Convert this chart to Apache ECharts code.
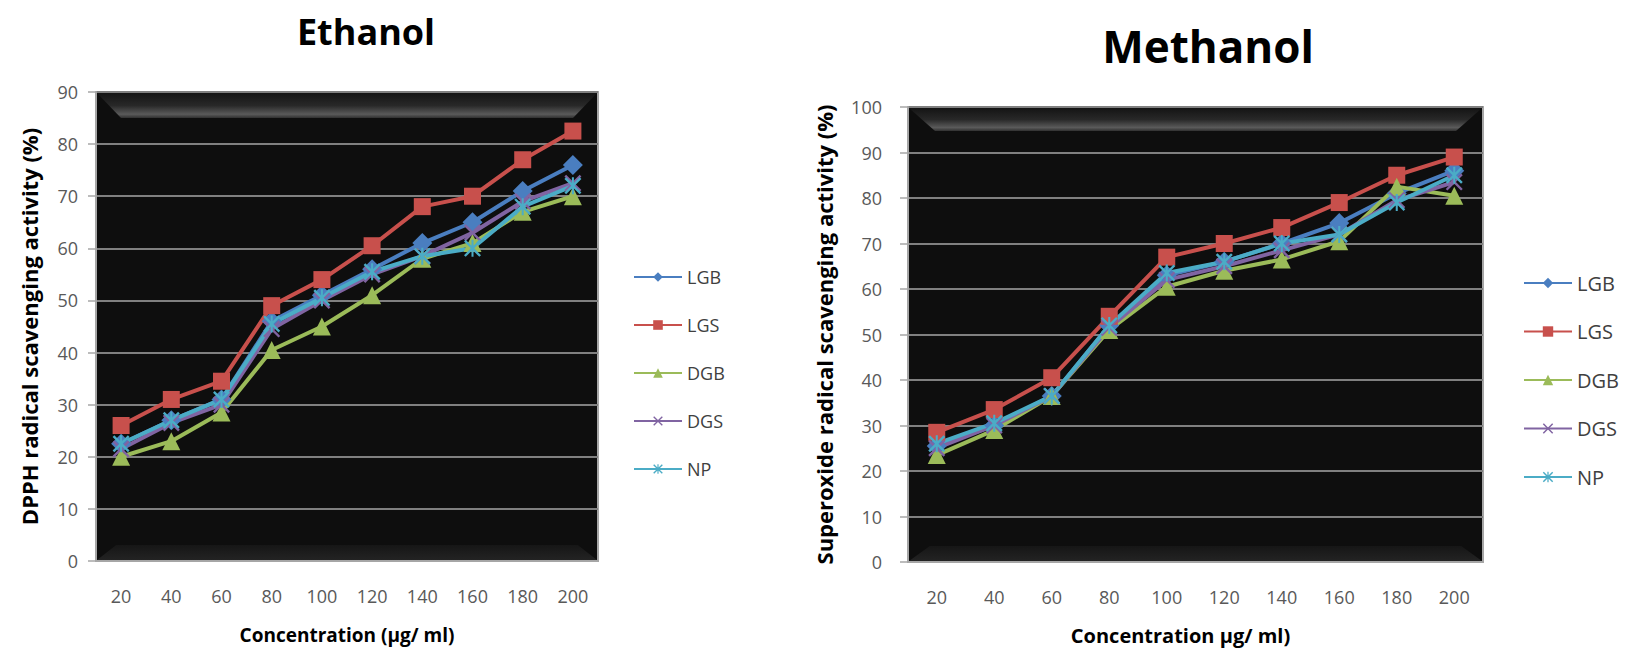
<!DOCTYPE html>
<html><head><meta charset="utf-8">
<script src="https://cdn.jsdelivr.net/npm/echarts@6/dist/echarts.min.js"></script>
<style>html,body{margin:0;padding:0;background:#fff}#c{width:1639px;height:654px}</style>
</head><body><div id="c"></div><script>
// ---- data ----
const categories = ['20','40','60','80','100','120','140','160','180','200'];
const seriesNames = ['LGB','LGS','DGB','DGS','NP'];
const yTicksEthanol = [0, 90, 10];   // min, max, interval
const yTicksMethanol = [0, 100, 10];

const ethanolLGB = [22.5, 27, 31, 46, 51, 56, 61, 65, 71, 76];
const ethanolLGS = [26, 31, 34.5, 49, 54, 60.5, 68, 70, 77, 82.5];
const ethanolDGB = [20, 23, 28.5, 40.5, 45, 51, 58, 61, 67, 70];
const ethanolDGS = [21.5, 26.5, 30, 44.5, 50, 55, 58.5, 63, 69, 72.5];
const ethanolNP  = [22.5, 27, 31, 45.5, 50.5, 55.5, 58.5, 60, 68, 72];

const methanolLGB = [25.5, 30, 36.5, 52, 63, 66, 70, 74.5, 81, 86];
const methanolLGS = [28.5, 33.5, 40.5, 54, 67, 70, 73.5, 79, 85, 89];
const methanolDGB = [23.5, 29, 36.5, 51, 60.5, 64, 66.5, 70.5, 82.5, 80.5];
const methanolDGS = [25, 30, 36.5, 51.5, 62, 65, 68.5, 72, 79.5, 83.5];
const methanolNP  = [26, 30.5, 36.5, 52, 63.5, 66, 70, 72, 79, 85];

// ---- styling ----
const colors = ['#4a7ec0', '#c8504c', '#9bbb59', '#8064a2', '#4bacc6'];
const X_PATH = 'path://M1,0 L5,4 L9,0 L10,1 L6,5 L10,9 L9,10 L5,6 L1,10 L0,9 L4,5 L0,1 Z';
const AST_PATH = X_PATH + ' M4.4,0 L5.6,0 L5.6,10 L4.4,10 Z';
const symbols = ['diamond', 'rect', 'triangle', X_PATH, AST_PATH];
const symbolSizes = [20, 17, 18, 17, 17];
const FONT = 'Open Sans';

const G = [
  {left: 96, top: 92, width: 502, height: 469},
  {left: 908, top: 107, width: 575, height: 455}
];

function bevel(g, bh, bw) {
  const x = g.left, y = g.top, w = g.width, h = g.height;
  return [
    { type: 'polygon', z: 1, silent: true,
      shape: { points: [[x+1, y+1], [x+w-1, y+1], [x+w-1-bw, y+bh], [x+1+bw, y+bh]] },
      style: { fill: new echarts.graphic.LinearGradient(0, 0, 0, 1, [
        {offset: 0, color: '#141414'}, {offset: 0.5, color: '#282828'},
        {offset: 0.85, color: '#5a5a5a'}, {offset: 1, color: '#303030'}]) } },
    { type: 'polygon', z: 1, silent: true,
      shape: { points: [[x+1, y+h-1], [x+1+bw*0.8, y+h-16], [x+w-1-bw*0.8, y+h-16], [x+w-1, y+h-1]] },
      style: { fill: new echarts.graphic.LinearGradient(0, 0, 0, 1, [
        {offset: 0, color: '#161616'}, {offset: 1, color: '#232323'}]) } }
  ];
}

function makeSeries(gi, datas) {
  return datas.map((d, i) => ({
    name: seriesNames[i], type: 'line', xAxisIndex: gi, yAxisIndex: gi,
    data: d, symbol: symbols[i], symbolSize: symbolSizes[i], showAllSymbol: true,
    lineStyle: { color: colors[i], width: 4 },
    itemStyle: { color: colors[i], borderWidth: 0 },
    emphasis: { disabled: true }, animation: false
  }));
}

function xAxis(gi, name, nameGap, nameSize, padding) {
  return {
    type: 'category', gridIndex: gi, data: categories, boundaryGap: true,
    axisLine: { lineStyle: { color: '#a6a6a6', width: 2 } },
    axisTick: { show: false },
    axisLabel: { color: '#595959', fontSize: 18, fontFamily: FONT, margin: 26 },
    name: name, nameLocation: 'middle', nameGap: nameGap,
    nameTextStyle: { color: '#000', fontWeight: 'bold', fontSize: nameSize, fontFamily: FONT, padding: padding }
  };
}
function yAxis(gi, ticks, name, nameGap, nameSize, margin) {
  return {
    type: 'value', gridIndex: gi, min: ticks[0], max: ticks[1], interval: ticks[2],
    axisLine: { show: true, lineStyle: { color: '#a6a6a6', width: 2 } },
    axisTick: { show: true, length: 8, lineStyle: { color: '#a6a6a6', width: 1.5 } },
    splitLine: { lineStyle: { color: '#808080', width: 2 } },
    axisLabel: { color: '#595959', fontSize: 18, fontFamily: FONT, margin: margin },
    name: name, nameLocation: 'middle', nameGap: nameGap,
    nameTextStyle: { color: '#000', fontWeight: 'bold', fontSize: nameSize, fontFamily: FONT }
  };
}

const chart = echarts.init(document.getElementById('c'), null, { renderer: 'svg' });
chart.setOption({
  animation: false,
  backgroundColor: '#ffffff',
  title: [
    { text: 'Ethanol', left: 366, top: 13, textAlign: 'center', padding: 0,
      textStyle: { fontFamily: FONT, fontWeight: 'bold', fontSize: 36, color: '#000' } },
    { text: 'Methanol', left: 1208, top: 24, textAlign: 'center', padding: 0,
      textStyle: { fontFamily: FONT, fontWeight: 'bold', fontSize: 44, color: '#000' } }
  ],
  legend: [
    { data: seriesNames, orient: 'vertical', left: 628, top: 263, itemWidth: 48, itemHeight: 12, itemGap: 30,
      textStyle: { fontSize: 18, lineHeight: 18, color: '#404040', fontFamily: FONT }, selectedMode: false },
    { data: seriesNames, orient: 'vertical', left: 1518, top: 268, itemWidth: 48, itemHeight: 13, itemGap: 28.5,
      textStyle: { fontSize: 20, lineHeight: 20, color: '#404040', fontFamily: FONT }, selectedMode: false }
  ],
  grid: G.map(g => ({ left: g.left, top: g.top, width: g.width, height: g.height, show: true,
    backgroundColor: '#0e0e0e', borderColor: '#a6a6a6', borderWidth: 2, containLabel: false })),
  xAxis: [ xAxis(0, 'Concentration (µg/ ml)', 64, 19, [0,0,0,0]),
           xAxis(1, 'Concentration µg/ ml)', 63, 20, [0,30,0,0]) ],
  yAxis: [ yAxis(0, yTicksEthanol, 'DPPH radical scavenging activity (%)', 56, 22, 18),
           yAxis(1, yTicksMethanol, 'Superoxide radical scavenging activity (%)', 73, 22, 26) ],
  graphic: [].concat(bevel(G[0], 26, 24), bevel(G[1], 24, 26)),
  series: [].concat(
    makeSeries(0, [ethanolLGB, ethanolLGS, ethanolDGB, ethanolDGS, ethanolNP]),
    makeSeries(1, [methanolLGB, methanolLGS, methanolDGB, methanolDGS, methanolNP]))
});
</script></body></html>
